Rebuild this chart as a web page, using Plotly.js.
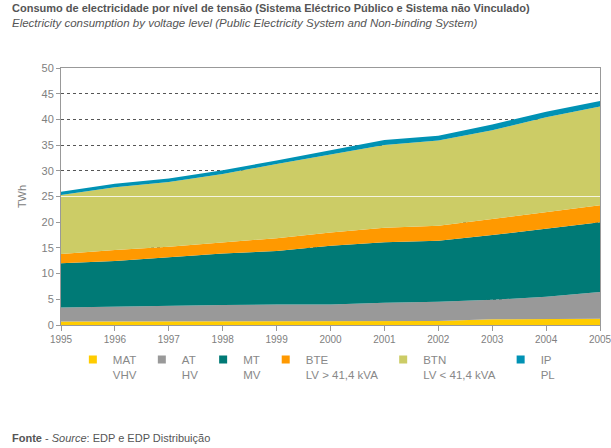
<!DOCTYPE html>
<html>
<head>
<meta charset="utf-8">
<script src="https://cdn.plot.ly/plotly-3.0.1.min.js"></script>
<style>html,body{margin:0;padding:0;background:#fff;}#chart{width:611px;height:448px;}</style>
</head>
<body>
<div id="chart"></div>
<script>
const years = [1995,1996,1997,1998,1999,2000,2001,2002,2003,2004,2005];
const MAT = [0.7,0.7,0.7,0.7,0.7,0.8,0.8,0.8,1.1,1.2,1.2];
const AT  = [2.7,2.9,3.05,3.2,3.3,3.2,3.55,3.7,3.8,4.3,5.2];
const MT  = [8.6,8.85,9.45,10.0,10.4,11.4,11.75,11.9,12.6,13.3,13.6];
const BTE = [1.8,2.15,2.0,2.2,2.5,2.6,2.8,2.9,3.1,3.1,3.3];
const BTN = [11.5,12.2,12.6,13.3,14.4,15.1,16.1,16.6,17.3,18.5,19.2];
const IP  = [0.6,0.7,0.7,0.7,0.7,0.9,1.0,0.9,1.1,1.1,1.1];

const seriesNames = ["MAT","AT","MT","BTE","BTN","IP"];
const seriesSub = ["VHV","HV","MV","LV &gt; 41,4 kVA","LV &lt; 41,4 kVA","PL"];
const seriesVals = [MAT,AT,MT,BTE,BTN,IP];
const colors = ["#FFCC00","#999999","#007A76","#FF9900","#CCCC66","#0092B4"];

const traces = [];
seriesVals.forEach((v,i)=>{
  traces.push({
    x: years, y: v, type:'scatter', mode:'lines', stackgroup:'one',
    line:{width:0, color:colors[i]}, fillcolor:colors[i],
    name: seriesNames[i], showlegend:false, hoverinfo:'x+y+name'
  });
});
seriesVals.forEach((v,i)=>{
  traces.push({
    x:[null], y:[null], type:'scatter', mode:'markers',
    marker:{symbol:'square', size:8, color:colors[i]},
    name: seriesNames[i] + '<br>' + seriesSub[i], showlegend:true
  });
});

const gray = '#808080';
const layout = {
  width:611, height:448,
  margin:{l:61, r:11, t:68, b:123},
  paper_bgcolor:'#fff', plot_bgcolor:'#fff',
  font:{family:'"Liberation Sans", Arial, sans-serif', size:10, color:gray},
  showlegend:true,
  legend:{orientation:'h', traceorder:'normal', x:0.022, xanchor:'left', y:-0.08, yanchor:'top',
    valign:'top', font:{size:11.5, color:'#888'}, itemwidth:30, tracegroupgap:0},
  xaxis:{range:[1995,2005], tickmode:'array', tickvals:years, ticklabeloverflow:'allow',
    ticks:'outside', ticklen:5, tickcolor:'#999', showgrid:false,
    showline:true, linecolor:'#999', mirror:true, zeroline:false,
    tickfont:{size:10, color:gray}},
  yaxis:{range:[0,50], tickmode:'linear', tick0:0, dtick:5,
    ticks:'outside', ticklen:4, tickcolor:'#999',
    showgrid:true, gridcolor:'#555', griddash:'dot', gridwidth:1,
    showline:true, linecolor:'#999', mirror:true, zeroline:false,
    tickfont:{size:11, color:gray},
    title:{text:'TWh', font:{size:11, color:gray}, standoff:12}},
  shapes:[{type:'line', xref:'paper', yref:'y', x0:0, x1:1, y0:25, y1:25,
    line:{color:'rgba(255,255,255,0.8)', width:1}, layer:'above'}],
  annotations:[
    {xref:'paper', yref:'paper', x:-0.094, y:1.232, xanchor:'left', yanchor:'middle', showarrow:false,
     text:'<b>Consumo de electricidade por nível de tensão (Sistema Eléctrico Público e Sistema não Vinculado)</b>',
     font:{size:11, color:'#555'}},
    {xref:'paper', yref:'paper', x:-0.094, y:1.174, xanchor:'left', yanchor:'middle', showarrow:false,
     text:'<i>Electricity consumption by voltage level (Public Electricity System and Non-binding System)</i>',
     font:{size:11.5, color:'#555'}},
    {xref:'paper', yref:'paper', x:-0.094, y:-0.438, xanchor:'left', yanchor:'middle', showarrow:false,
     text:'<b>Fonte</b> - <i>Source</i>: EDP e EDP Distribuição',
     font:{size:11, color:'#555'}}
  ]
};
Plotly.newPlot('chart', traces, layout, {displayModeBar:false, staticPlot:true});
</script>
</body>
</html>
